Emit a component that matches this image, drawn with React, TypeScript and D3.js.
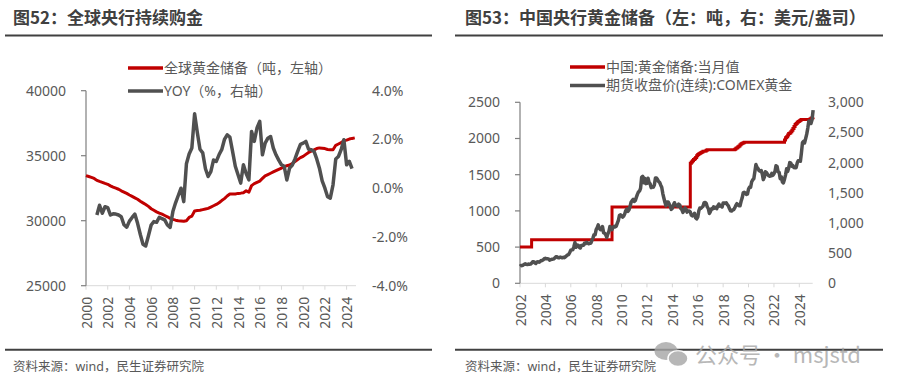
import React from 'react';
import * as d3 from 'd3';

const FONT = '"Noto Sans", "Noto Sans CJK SC", sans-serif';
const CJK = '"Noto Sans CJK SC", "Noto Sans", sans-serif';
const TEXT = '#595959';
const DARK = '#404040';
const RED = '#C00000';
const GREY = '#505050';

// 图52: global gold reserves (tonnes), quarterly from 2000Q1
const globalReserve = [
  33470, 33400, 33330, 33250,
  33100, 33020, 32950, 32870,
  32800, 32680, 32580, 32500,
  32420, 32300, 32200, 32100,
  31980, 31870, 31760, 31650,
  31500, 31370, 31250, 31100,
  30920, 30800, 30680, 30580,
  30500, 30400, 30300, 30180,
  30100, 30040, 30000, 29980,
  29960, 30000, 30250, 30350,
  30750, 30780, 30800, 30850,
  30900, 30950, 31050, 31150,
  31250, 31380, 31550, 31700,
  31900, 32050, 32060, 32060,
  32100, 32120, 32150, 32300,
  32200, 32700, 32850, 32950,
  33050, 33250, 33450, 33550,
  33650, 33750, 33850, 33950,
  34050, 34150, 34230, 34280,
  34400, 34550, 34700, 34850,
  34950, 35100, 35250, 35350,
  35450, 35550, 35600, 35580,
  35550, 35480, 35450, 35460,
  35800, 35900, 36000, 36150,
  36200, 36280, 36330, 36370,
];

// 图52: YoY (%), quarterly from 2001Q1
const globalYoy = [
  -1.10, -0.70, -1.03, -0.76,
  -0.80, -1.10, -1.05, -1.06,
  -1.10, -1.17, -1.50, -1.60,
  -1.35, -1.20, -1.06, -1.44,
  -1.90, -2.30, -2.37, -1.95,
  -1.51, -1.37, -1.40, -1.19,
  -1.25, -1.30, -1.51, -1.61,
  -0.96, -0.60, -0.30, 0.00,
  -0.55, 1.00, 1.40, 1.65,
  3.05, 2.30, 1.60, 1.45,
  0.80, 0.48, 0.68, 1.16,
  1.10, 1.37, 1.58, 2.00,
  2.19, 2.10, 1.51, 0.90,
  0.55, 0.21, 0.96, 0.60,
  0.34, 2.33, 1.92, 2.47,
  2.74, 1.37, 1.85, 2.05,
  2.12, 1.65, 1.37, 1.15,
  0.96, 0.90, 0.34, 0.82,
  0.95, 1.20, 1.51, 1.80,
  1.85, 1.92, 1.60, 1.58,
  1.51, 1.20, 0.82, 0.30,
  0.00, -0.35, -0.41, 0.14,
  1.20, 1.30, 1.58, 1.99,
  0.96, 1.10, 0.80,
];

const chart1Years = ['2000', '2002', '2004', '2006', '2008', '2010', '2012', '2014', '2016', '2018', '2020', '2022', '2024'];
const chart1LeftTicks = [25000, 30000, 35000, 40000];
const chart1RightTicks = [-4, -2, 0, 2, 4];

// 图53: China reserves (tonnes), month of each change
const chinaReserve: [string, number][] = [
  ['2002-01', 500], ['2002-12', 600], ['2009-04', 1054],
  ['2015-06', 1658], ['2015-07', 1677], ['2015-08', 1693], ['2015-09', 1709],
  ['2015-10', 1722], ['2015-11', 1737], ['2015-12', 1762], ['2016-01', 1778],
  ['2016-02', 1788], ['2016-03', 1797], ['2016-04', 1808], ['2016-05', 1814],
  ['2016-06', 1823], ['2016-08', 1828], ['2016-09', 1838], ['2016-10', 1843],
  ['2018-12', 1852], ['2019-01', 1864], ['2019-02', 1873], ['2019-03', 1885],
  ['2019-04', 1896], ['2019-05', 1912], ['2019-06', 1926], ['2019-07', 1936],
  ['2019-08', 1942], ['2019-09', 1948],
  ['2022-11', 1980], ['2022-12', 2010], ['2023-01', 2025], ['2023-02', 2050],
  ['2023-03', 2068], ['2023-04', 2076], ['2023-05', 2092], ['2023-06', 2113],
  ['2023-07', 2137], ['2023-08', 2165], ['2023-09', 2192], ['2023-10', 2208],
  ['2023-11', 2226], ['2023-12', 2235], ['2024-01', 2245], ['2024-02', 2257],
  ['2024-03', 2262], ['2024-04', 2264], ['2024-11', 2269], ['2024-12', 2280],
  ['2025-01', 2285], ['2025-02', 2290],
];

// 图53: COMEX gold (USD/oz), monthly from 2002-01
const comexGold = [
  282, 296, 294, 302, 314, 322, 314, 310, 319, 317, 319, 333,
  357, 359, 340, 328, 355, 356, 351, 360, 379, 379, 389, 407,
  414, 405, 406, 404, 384, 392, 398, 400, 406, 420, 439, 442,
  424, 423, 434, 429, 422, 431, 424, 438, 456, 470, 476, 510,
  549, 555, 557, 610, 676, 596, 633, 632, 598, 586, 627, 629,
  631, 665, 655, 679, 667, 655, 665, 665, 712, 754, 806, 803,
  889, 922, 968, 909, 888, 889, 939, 839, 829, 806, 760, 816,
  858, 943, 924, 890, 928, 946, 934, 949, 996, 1043, 1127, 1134,
  1118, 1095, 1114, 1149, 1205, 1232, 1193, 1215, 1271, 1343, 1370, 1391,
  1356, 1372, 1424, 1474, 1512, 1529, 1573, 1756, 1772, 1665, 1739, 1652,
  1656, 1742, 1673, 1650, 1585, 1596, 1594, 1630, 1744, 1747, 1721, 1688,
  1670, 1627, 1593, 1487, 1414, 1343, 1286, 1347, 1349, 1316, 1275, 1225,
  1244, 1300, 1336, 1299, 1287, 1279, 1311, 1296, 1239, 1222, 1176, 1201,
  1250, 1227, 1179, 1199, 1199, 1181, 1131, 1117, 1125, 1159, 1086, 1068,
  1097, 1199, 1246, 1243, 1260, 1276, 1337, 1340, 1326, 1266, 1238, 1157,
  1192, 1234, 1231, 1267, 1246, 1260, 1236, 1283, 1314, 1279, 1282, 1265,
  1331, 1331, 1325, 1335, 1303, 1282, 1238, 1201, 1198, 1215, 1221, 1250,
  1291, 1320, 1301, 1286, 1284, 1359, 1413, 1500, 1510, 1495, 1471, 1480,
  1561, 1597, 1592, 1683, 1715, 1732, 1847, 1968, 1922, 1900, 1866, 1858,
  1867, 1808, 1718, 1760, 1850, 1834, 1807, 1785, 1776, 1777, 1821, 1790,
  1817, 1856, 1948, 1937, 1849, 1837, 1733, 1765, 1681, 1665, 1726, 1798,
  1898, 1855, 1912, 2000, 1991, 1943, 1951, 1918, 1916, 1916, 1993, 2032,
  2034, 2023, 2160, 2331, 2351, 2326, 2398, 2472, 2572, 2691, 2651, 2648,
  2710, 2870,
];

const chart2Years = ['2002', '2004', '2006', '2008', '2010', '2012', '2014', '2016', '2018', '2020', '2022', '2024'];
const chart2LeftTicks = [0, 500, 1000, 1500, 2000, 2500];
const chart2RightTicks = [0, 500, 1000, 1500, 2000, 2500, 3000];

const quarterDate = (start: number, i: number) => new Date(start + Math.floor(i / 4), (i % 4) * 3, 1);
const monthDate = (start: number, i: number) => new Date(start + Math.floor(i / 12), i % 12, 1);
const parseMonth = d3.timeParse('%Y-%m');

function XAxis({ x, y, years }: { x: d3.ScaleTime<number, number>; y: number; years: string[] }) {
  const [r0, r1] = x.range();
  return (
    <g>
      <line x1={r0} x2={r1} y1={y} y2={y} stroke="#d9d9d9" strokeWidth={1} />
      {years.map(yr => {
        const px = x(new Date(+yr, 0, 1));
        return (
          <g key={yr}>
            <line x1={px} x2={px} y1={y} y2={y + 4} stroke="#d9d9d9" />
            <text
              transform={`translate(${px},${y + 11}) rotate(-90)`}
              textAnchor="end"
              dominantBaseline="central"
              fontSize={14}
              fill={TEXT}
            >
              {yr}
            </text>
          </g>
        );
      })}
    </g>
  );
}

function LeftAxis({ y, x0, ticks }: { y: d3.ScaleLinear<number, number>; x0: number; ticks: number[] }) {
  const [b, t] = y.range();
  return (
    <g>
      <line x1={x0} x2={x0} y1={t} y2={b} stroke="#7f7f7f" strokeWidth={1.2} />
      {ticks.map(v => (
        <g key={v}>
          <line x1={x0 - 5} x2={x0} y1={y(v)} y2={y(v)} stroke="#7f7f7f" strokeWidth={1.2} />
          <text x={x0 - 20} y={y(v)} dy="0.35em" textAnchor="end" fontSize={14} fill={TEXT}>
            {v}
          </text>
        </g>
      ))}
    </g>
  );
}

function Legend({ x, y, gap, items }: { x: number; y: number; gap: number; items: [string, string][] }) {
  return (
    <g>
      {items.map(([label, color], i) => (
        <g key={label} transform={`translate(${x},${y + i * gap})`}>
          <line x1={0} x2={35} y1={0} y2={0} stroke={color} strokeWidth={3.5} />
          <text x={36} y={0} dy="0.35em" fontSize={14} fill={TEXT}>
            {label}
          </text>
        </g>
      ))}
    </g>
  );
}

function GlobalChart() {
  const x = d3.scaleTime().domain([new Date(2000, 0, 1), new Date(2024, 10, 12)]).range([86, 356]);
  const yL = d3.scaleLinear().domain([25000, 40000]).range([285.7, 90.7]);
  const yR = d3.scaleLinear().domain([-4, 4]).range([285.7, 90.7]);

  const reserveLine = d3.line<number>()
    .x((_, i) => x(quarterDate(2000, i)))
    .y(d => yL(d));
  const yoyLine = d3.line<number>()
    .x((_, i) => x(quarterDate(2001, i)))
    .y(d => yR(d));

  return (
    <g>
      <text x={13} y={24} fontSize={17} fontWeight="bold" fill={DARK} fontFamily={CJK}>图52：全球央行持续购金</text>
      <line x1={5} x2={432} y1={35.5} y2={35.5} stroke={DARK} strokeWidth={2} />

      <XAxis x={x} y={285.7} years={chart1Years} />
      <LeftAxis y={yL} x0={86} ticks={chart1LeftTicks} />
      {chart1RightTicks.map(v => (
        <text key={v} x={372} y={yR(v)} dy="0.35em" fontSize={14} fill={TEXT}>
          {d3.format('.1f')(v).replace('−', '-') + '%'}
        </text>
      ))}

      <path d={reserveLine(globalReserve) ?? ''} fill="none" stroke={RED} strokeWidth={3} strokeLinejoin="round" />
      <path d={yoyLine(globalYoy) ?? ''} fill="none" stroke={GREY} strokeWidth={3.5} strokeLinejoin="round" />

      <Legend x={128} y={68} gap={23} items={[['全球黄金储备（吨，左轴）', RED], ['YOY（%，右轴）', GREY]]} />

      <line x1={5} x2={432} y1={349.7} y2={349.7} stroke={DARK} strokeWidth={2} />
      <text x={13} y={367} dy="0.35em" fontSize={12.5} fill={TEXT}>资料来源：wind，民生证券研究院</text>
    </g>
  );
}

function ChinaChart() {
  const x = d3.scaleTime().domain([new Date(2002, 0, 1), new Date(2025, 0, 20)]).range([520, 812.7]);
  const yL = d3.scaleLinear().domain([0, 2500]).range([283.3, 102.3]);
  const yR = d3.scaleLinear().domain([0, 3000]).range([283.3, 102.3]);

  const reserveLine = d3.line<[string, number]>()
    .curve(d3.curveStepAfter)
    .x(d => x(parseMonth(d[0]) as Date))
    .y(d => yL(d[1]));
  const goldLine = d3.line<number>()
    .x((_, i) => x(monthDate(2002, i)))
    .y(d => yR(d));

  return (
    <g>
      <text x={465} y={24} fontSize={17} fontWeight="bold" fill={DARK} fontFamily={CJK}>图53：中国央行黄金储备（左：吨，右：美元/盎司）</text>
      <line x1={455} x2={883} y1={35.5} y2={35.5} stroke={DARK} strokeWidth={2} />

      <XAxis x={x} y={283.3} years={chart2Years} />
      <LeftAxis y={yL} x0={520} ticks={chart2LeftTicks} />
      {chart2RightTicks.map(v => (
        <text key={v} x={828} y={yR(v)} dy="0.35em" fontSize={14} fill={TEXT}>
          {d3.format(',')(v)}
        </text>
      ))}

      <path d={reserveLine(chinaReserve) ?? ''} fill="none" stroke={RED} strokeWidth={3} />
      <path d={goldLine(comexGold) ?? ''} fill="none" stroke={GREY} strokeWidth={3.5} strokeLinejoin="round" />

      <Legend x={570} y={67} gap={18.5} items={[['中国:黄金储备:当月值', RED], ['期货收盘价(连续):COMEX黄金', GREY]]} />

      <line x1={455} x2={883} y1={349.7} y2={349.7} stroke={DARK} strokeWidth={2} />
      <text x={465} y={367} dy="0.35em" fontSize={12.5} fill={TEXT}>资料来源：wind，民生证券研究院</text>

      {/* watermark */}
      <g opacity={0.8}>
        <ellipse cx={666} cy={351} rx={11.5} ry={9} fill="#a6a6a6" />
        <ellipse cx={678} cy={358.5} rx={10} ry={8} fill="#a6a6a6" stroke="#fff" strokeWidth={1.5} />
        <text x={695} y={363} fontSize={22} fontFamily={CJK} fill="#a6a6a6">公众号 · msjstd</text>
      </g>
    </g>
  );
}

export default function App() {
  return (
    <svg
      width={901}
      height={391}
      viewBox="0 0 901 391"
      style={{ position: 'absolute', left: 0, top: 0, background: '#fff' }}
      fontFamily={FONT}
    >
      <rect width={901} height={391} fill="#fff" />
      <GlobalChart />
      <ChinaChart />
    </svg>
  );
}
